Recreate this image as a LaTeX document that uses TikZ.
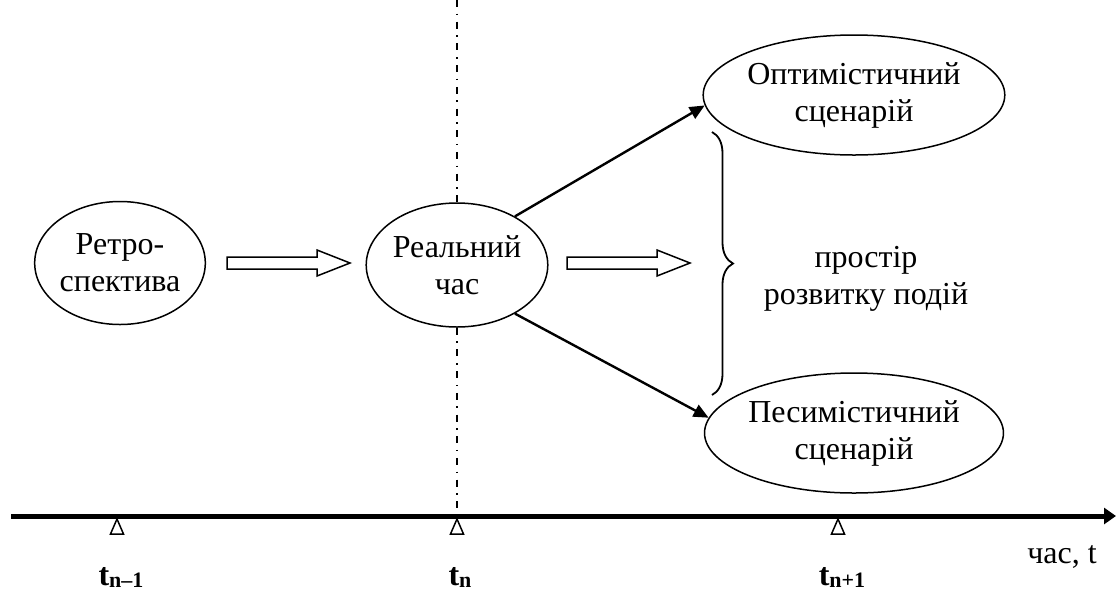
\documentclass[tikz,border=0pt]{standalone}
\usepackage{fontspec}
\setmainfont{Liberation Serif}
\usetikzlibrary{arrows.meta,shapes.geometric,decorations.pathreplacing}

% bold subscript that sits only slightly below the baseline
\newcommand{\lowidx}[1]{\raisebox{-1.2pt}{\fontsize{11}{11}\selectfont\bfseries #1}}

\begin{document}
\begin{tikzpicture}[x=0.5pt,y=-0.5pt,
  txt/.style={font=\fontsize{16}{18.5}\selectfont, align=center, inner sep=0pt},
  oval/.style={txt, ellipse, draw, line width=0.75pt},
  conn/.style={line width=1.2pt, -{Triangle[length=7.5pt,width=6.5pt]}},
  dashdot/.style={line width=0.6pt, dash pattern=on 3.5pt off 3.3pt on 0.75pt off 3.3pt},
  blockarrow/.pic={\draw[line width=0.75pt, line join=miter]
     (0,-6) -- (90,-6) -- (90,-13) -- (123,0) -- (90,13) -- (90,6) -- (0,6) -- cycle;},
  mark tri/.pic={\draw[line width=0.75pt, line join=miter]
     (-6.5,18) -- (6.5,18) -- (0,3) -- cycle;},
  tlabel/.style={font=\fontsize{16}{19}\selectfont\bfseries, anchor=base, inner sep=0pt}
]
\useasboundingbox (0,0) rectangle (1116,591);

% events in time
\node[oval, minimum width=85pt, minimum height=61.5pt] (retro) at (120,263) {Ретро-\\спектива};
\node[oval, minimum width=86pt, minimum height=62pt] (real) at (457,265) {Реальний\\час};
\node[oval, minimum width=144pt, minimum height=60pt] (opt) at (854,95) {Оптимістичний\\сценарій};
\node[oval, minimum width=144pt, minimum height=60pt] (pes) at (854,433) {Песимістичний\\сценарій};

% present moment marker
\coordinate (vtop) at (457,0);
\coordinate (vbot) at (457,516);
\draw[dashdot] (vtop) -- (real.north);
\draw[dashdot] (real.south) -- (vbot);

% transitions
\pic at (227,263) {blockarrow};
\pic at (567,263) {blockarrow};
\draw[conn] (real.40) -- (opt.184);
\draw[conn] (real.-40) -- (pes.174);

% space of possible outcomes
\coordinate (br1) at (712,132);
\coordinate (br2) at (712,395);
\draw[line width=0.9pt, decorate, decoration={brace, amplitude=10.5pt}] (br1) -- (br2);
\node[txt] (space) at (866,279) {простір\\розвитку подій};

% time axis
\coordinate (a0) at (11,516);
\coordinate (a1) at (1116,516);
\draw[line width=2.5pt, -{Triangle[length=6pt,width=8pt]}] (a0) -- (a1);
\pic at (117,516) {mark tri};
\pic at (457,516) {mark tri};
\pic at (838,516) {mark tri};
\node[tlabel] (t1) at (121,585) {t\lowidx{n–1}};
\node[tlabel] (t2) at (460,585) {t\lowidx{n}};
\node[tlabel] (t3) at (842,585) {t\lowidx{n+1}};
\node[txt, anchor=base] (axlab) at (1062,563) {час, t};
\end{tikzpicture}
\end{document}
